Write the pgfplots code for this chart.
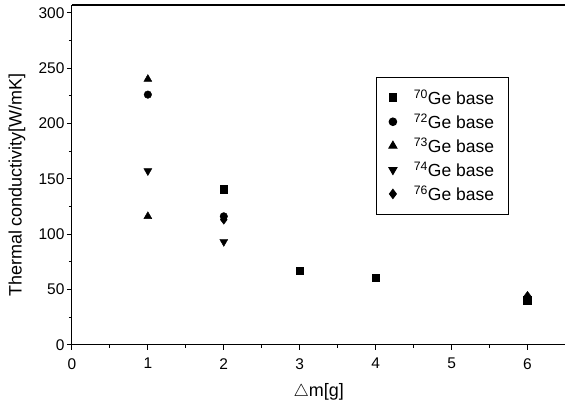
\documentclass[border=0pt]{standalone}
\usepackage{fontspec}
\setmainfont{Liberation Sans}
\usepackage{pgfplots}
\pgfplotsset{compat=1.18}

\begin{document}
\begin{tikzpicture}
\path (0,0) rectangle (566pt,401pt);
\begin{axis}[
  at={(72pt,56pt)},anchor=south west,
  scale only axis,width=494pt,height=340pt,
  xmin=0,xmax=6.5,ymin=0,ymax=307,
  axis x line*=box,axis y line*=left,
  xtick={0,1,2,3,4,5,6},ytick={0,50,100,150,200,250,300},
  minor x tick num=1,minor y tick num=1,
  xtick pos=bottom,ytick pos=left,
  tick align=outside,
  major tick length=5pt,minor tick length=3pt,
  every tick/.style={black,line width=0.9pt},
  axis line style={line width=1.1pt},
  /pgf/number format/assume math mode=true,
  tick label style={font=\fontsize{15.5}{17}\selectfont},
  xticklabel style={yshift=-5pt},
  yticklabel style={xshift=1pt},
  xlabel={$\triangle$m[g]},ylabel={Thermal conductivity[W/mK]},
  label style={font=\fontsize{18}{20}\selectfont},
  xlabel style={at={(rel axis cs:0.5,0)},anchor=north,yshift=-35pt},
  ylabel style={at={(rel axis cs:0,0.47)},anchor=south,yshift=43pt},
  legend style={at={(rel axis cs:0.617,0.788)},anchor=north west,
    draw=black,line width=1pt,font=\fontsize{17.5}{19}\selectfont,
    row sep=3.8pt,inner xsep=12pt,inner ysep=10pt,column sep=15pt},
  legend cell align=left,
  every axis plot/.append style={only marks,black,mark options={fill=black,solid}},
]
\addplot[mark=square*,mark size=3.8pt] coordinates {(2,140.6) (3,67) (4,60.5) (6,40)};
\addlegendentry{\textsuperscript{70}Ge base}
\addplot[mark=*,mark size=3.8pt] coordinates {(1,226) (2,116)};
\addlegendentry{\textsuperscript{72}Ge base}
\addplot[mark=triangle*,mark size=4.6pt] coordinates {(1,240) (1,116)};
\addlegendentry{\textsuperscript{73}Ge base}
\addplot[mark=triangle*,mark size=4.6pt,mark options={rotate=180}] coordinates {(1,157) (2,93)};
\addlegendentry{\textsuperscript{74}Ge base}
\addplot[mark=diamond*,mark size=4.6pt] coordinates {(2,113) (6,44)};
\addlegendentry{\textsuperscript{76}Ge base}
\end{axis}
\end{tikzpicture}
\end{document}
